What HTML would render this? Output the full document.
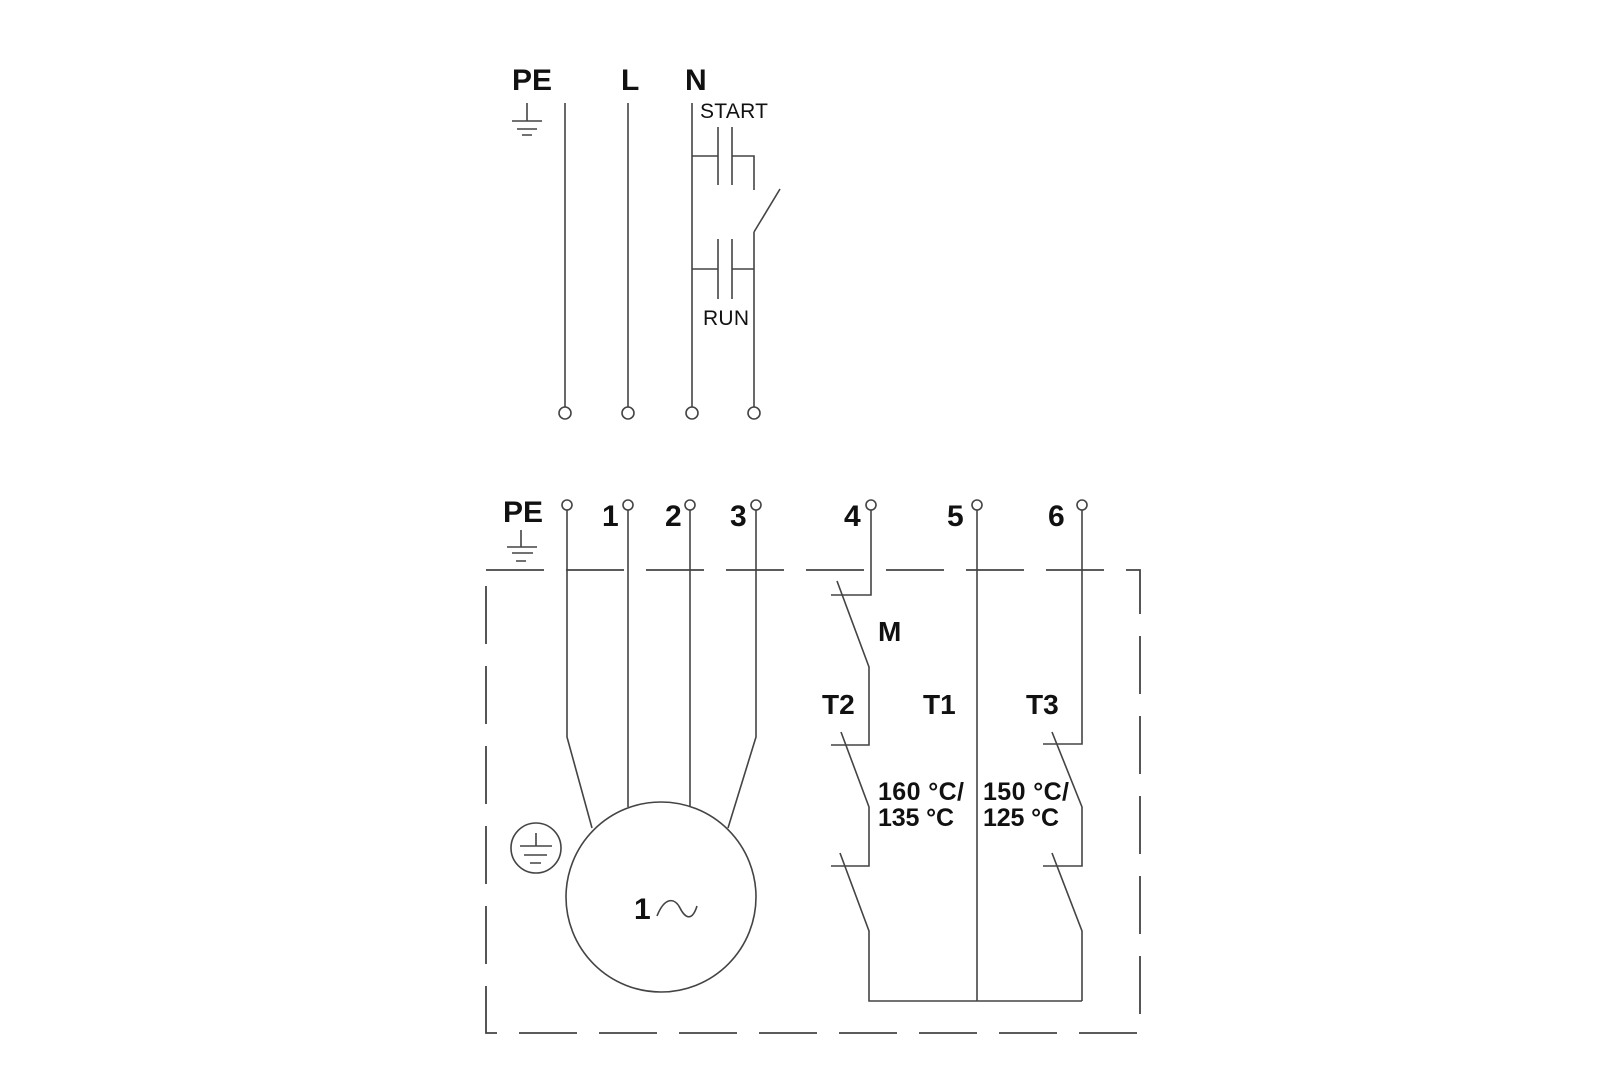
<!DOCTYPE html>
<html><head><meta charset="utf-8"><style>html,body{margin:0;padding:0;background:#fff}svg{display:block}</style></head>
<body>
<svg width="1620" height="1080" viewBox="0 0 1620 1080" xmlns="http://www.w3.org/2000/svg">
<g fill="none" stroke="#444" stroke-width="1.6">
<path d="M527 103V121M512 121H542M517 129H537M522 135H532"/>
<path d="M565 103V407M628 103V407M692 103V407"/>
<path d="M692 156H718M718 127V185M732 127V185M732 156H754V190"/>
<path d="M754 232L780 189M754 232V407"/>
<path d="M692 269H718M718 239V299M732 239V299M732 269H754"/>
<circle cx="565" cy="413" r="6" fill="#fff"/><circle cx="628" cy="413" r="6" fill="#fff"/>
<circle cx="692" cy="413" r="6" fill="#fff"/><circle cx="754" cy="413" r="6" fill="#fff"/>
<rect x="486" y="570" width="654" height="463" stroke-dasharray="58 22" stroke-width="1.8"/>
<path d="M521 530V547M507 547H537M512 553H533M516 561H526"/>
<path d="M567 510V737L592 828M628 510V807M690 510V807M756 510V737L728 828"/>
<circle cx="661" cy="897" r="95"/>
<path d="M657 916C665 896 675 898 680 908S692 922 697 906"/>
<circle cx="536" cy="848" r="25"/>
<path d="M536 833V846M520 846H552M524 855H547M530 863H541"/>
<path d="M871 510V595H831M837 581L869 667V745H831"/>
<path d="M841 732L869 807V866H831M840 853L869 931V1001H1082"/>
<path d="M977 510V1001"/>
<path d="M1082 510V744H1043M1052 732L1082 807V866H1043M1052 853L1082 931V1001"/>
<circle cx="567" cy="505" r="5" fill="#fff"/><circle cx="628" cy="505" r="5" fill="#fff"/>
<circle cx="690" cy="505" r="5" fill="#fff"/><circle cx="756" cy="505" r="5" fill="#fff"/>
<circle cx="871" cy="505" r="5" fill="#fff"/><circle cx="977" cy="505" r="5" fill="#fff"/>
<circle cx="1082" cy="505" r="5" fill="#fff"/>
</g>
<g font-family="Liberation Sans, sans-serif" fill="#111">
<g font-weight="bold" font-size="30">
<text x="512" y="90">PE</text><text x="621" y="90">L</text><text x="685" y="90">N</text>
<text x="503" y="522">PE</text>
<text x="602" y="526">1</text><text x="665" y="526">2</text><text x="730" y="526">3</text>
<text x="844" y="526">4</text><text x="947" y="526">5</text><text x="1048" y="526">6</text>
<text x="878" y="641" font-size="28">M</text>
<text x="822" y="714" font-size="28">T2</text><text x="923" y="714" font-size="28">T1</text><text x="1026" y="714" font-size="28">T3</text>
<text x="634" y="919">1</text>
</g>
<g font-weight="bold" font-size="25">
<text x="878" y="800" textLength="86">160 °C/</text><text x="878" y="826" textLength="76">135 °C</text>
<text x="983" y="800" textLength="86">150 °C/</text><text x="983" y="826" textLength="76">125 °C</text>
</g>
<text x="700" y="118" font-size="21" textLength="68">START</text>
<text x="703" y="325" font-size="21" textLength="46">RUN</text>
</g>
</svg>
</body></html>
